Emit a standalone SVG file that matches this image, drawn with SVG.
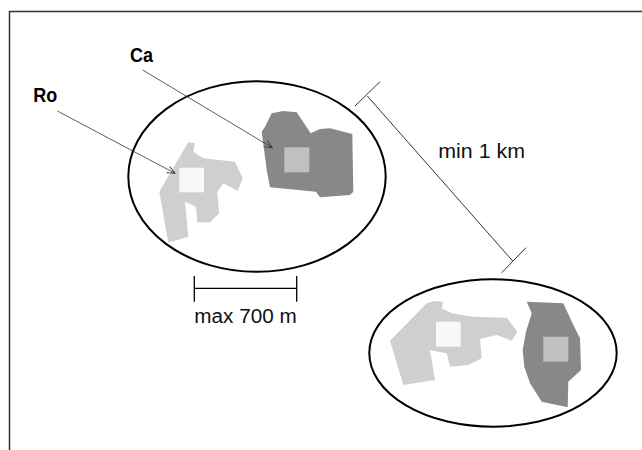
<svg xmlns="http://www.w3.org/2000/svg" width="642" height="450" viewBox="0 0 642 450">
<style>
.frame{fill:none;stroke:#333;stroke-width:1.5}
.ell{fill:none;stroke:#000;stroke-width:2}
.light{fill:#cfcfcf}
.dark{fill:#888}
.sqw{fill:#f8f8f8}
.sqg{fill:#c0c0c0}
.lead{fill:none;stroke:#333;stroke-width:0.8}
.dim{fill:none;stroke:#333;stroke-width:1}
.bar{fill:none;stroke:#000;stroke-width:1.3}
.lbl{font-family:"Liberation Sans",Arial,sans-serif;font-weight:bold;font-size:20px;fill:#000}
.txt{font-family:"Liberation Sans",Arial,sans-serif;font-size:20px;fill:#111}
</style>
<defs>
<marker id="ah" markerWidth="10" markerHeight="10" refX="9" refY="5" orient="auto" markerUnits="userSpaceOnUse">
<polyline points="1,1.5 9,5 1,8.5" fill="none" stroke="#333" stroke-width="0.9"/>
</marker>
</defs>
<rect width="642" height="450" fill="#fff"/>
<path class="frame" d="M9.5,450 V11.5 H642"/>

<g id="cluster1">
<ellipse class="ell" cx="257" cy="176.5" rx="128.7" ry="95.3"/>
<g id="ro1">
<polygon class="light" points="188.3,142.3 195,143.3 193.3,151.7 203.3,158.3 235,161.7 242.7,178.3 237.7,191 223.3,183.3 217.3,191.7 219,213.3 210,222.3 197.3,222.3 196,206.7 185,201.7 188.3,236.7 168.3,242.7 159.3,191.7 172,170"/>
<rect class="sqw" x="179.3" y="167.7" width="24.7" height="24.6"/>
</g>
<g id="ca1">
<polygon class="dark" points="271.7,113.3 283.3,111 296.7,112.3 310.7,133.3 320,129 330,128.3 352.3,134 353.3,191.7 350,195 320,197.3 316,191.7 270,187.3 266.7,170 261.7,131.7 265,126.7"/>
<rect class="sqg" x="284.3" y="147.3" width="25" height="25"/>
</g>
</g>

<g id="cluster2">
<ellipse class="ell" cx="493" cy="353" rx="123.7" ry="73.7"/>
<g id="ro2">
<polygon class="light" points="390,340.7 426.7,303.3 434,301 443.3,301.7 441.7,308.3 451.7,313.3 473.3,316.7 506.7,317.7 517.3,331.7 511.7,340.7 496.7,335 480,339 481.7,358.3 468.3,365 450,366.7 446.7,353.3 430,350 435,380 403.3,385"/>
<rect class="sqw" x="436" y="321.7" width="24.7" height="25"/>
</g>
<g id="ca2">
<polygon class="dark" points="526.7,301.7 563.3,303.3 573.3,325 580,338.3 581,370 568.3,381.7 567.7,407.3 541.7,401.7 530,383.3 524.3,366.7 522.7,350 526,331.7 531.7,313.3"/>
<rect class="sqg" x="543.3" y="336.7" width="25" height="25"/>
</g>
</g>

<g id="labels">
<text class="lbl" x="130" y="61.7" textLength="23" lengthAdjust="spacingAndGlyphs">Ca</text>
<text class="lbl" x="33.3" y="101.7" textLength="24" lengthAdjust="spacingAndGlyphs">Ro</text>
<text class="txt" x="438.3" y="158.3" textLength="86.7" lengthAdjust="spacingAndGlyphs">min 1 km</text>
<text class="txt" x="194.3" y="323.3" textLength="102.4" lengthAdjust="spacingAndGlyphs">max 700 m</text>
</g>

<g id="connectors">
<line class="lead" x1="142.7" y1="70" x2="272.3" y2="147.7" marker-end="url(#ah)"/>
<line class="lead" x1="57.3" y1="111" x2="175" y2="173.3" marker-end="url(#ah)"/>
<line class="dim" x1="367.3" y1="96" x2="512.7" y2="261"/>
<line class="dim" x1="355" y1="106" x2="380" y2="81.7"/>
<line class="dim" x1="501.7" y1="272.7" x2="526" y2="247.7"/>
<line class="bar" x1="194.3" y1="288.3" x2="296.7" y2="288.3"/>
<line class="bar" x1="194.3" y1="276" x2="194.3" y2="301.7"/>
<line class="bar" x1="296.7" y1="276" x2="296.7" y2="301.7"/>
</g>
</svg>
